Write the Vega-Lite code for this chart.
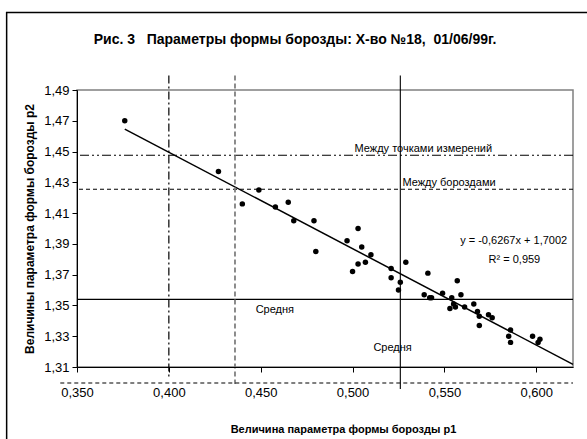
{
  "$schema": "https://vega.github.io/schema/vega-lite/v6.json",
  "width": 496,
  "height": 277,
  "autosize": {"type": "none"},
  "padding": {"left": 77, "top": 90, "right": 14, "bottom": 72},
  "background": "white",
  "config": {
    "font": "Liberation Sans",
    "view": {"stroke": "#808080", "strokeWidth": 1.5},
    "axis": {"grid": false, "domainColor": "black", "tickColor": "black", "labelColor": "black", "titleColor": "black", "labelFont": "Liberation Sans", "titleFont": "Liberation Sans", "labelOverlap": false, "labelFlush": false}
  },
  "title": {
    "text": "Рис. 3\u00a0\u00a0 Параметры формы борозды: Х-во №18,\u00a0 01/06/99г.",
    "anchor": "middle",
    "frame": "group",
    "dx": -30,
    "offset": -42,
    "baseline": "middle",
    "fontSize": 14,
    "fontWeight": "bold",
    "font": "Liberation Sans",
    "color": "black"
  },
  "datasets": {
    "pts": [
      {"p1": 0.376, "p2": 1.470}, {"p1": 0.427, "p2": 1.437}, {"p1": 0.440, "p2": 1.416}, {"p1": 0.449, "p2": 1.425},
      {"p1": 0.458, "p2": 1.414}, {"p1": 0.465, "p2": 1.417}, {"p1": 0.468, "p2": 1.405}, {"p1": 0.479, "p2": 1.405},
      {"p1": 0.480, "p2": 1.385}, {"p1": 0.497, "p2": 1.392}, {"p1": 0.503, "p2": 1.400}, {"p1": 0.505, "p2": 1.388},
      {"p1": 0.510, "p2": 1.383}, {"p1": 0.503, "p2": 1.377}, {"p1": 0.507, "p2": 1.378}, {"p1": 0.500, "p2": 1.372},
      {"p1": 0.521, "p2": 1.374}, {"p1": 0.521, "p2": 1.368}, {"p1": 0.529, "p2": 1.378}, {"p1": 0.526, "p2": 1.365},
      {"p1": 0.525, "p2": 1.360}, {"p1": 0.541, "p2": 1.371}, {"p1": 0.539, "p2": 1.357}, {"p1": 0.542, "p2": 1.355},
      {"p1": 0.543, "p2": 1.355}, {"p1": 0.549, "p2": 1.358}, {"p1": 0.557, "p2": 1.366}, {"p1": 0.554, "p2": 1.355},
      {"p1": 0.559, "p2": 1.357}, {"p1": 0.555, "p2": 1.351}, {"p1": 0.556, "p2": 1.349}, {"p1": 0.553, "p2": 1.348},
      {"p1": 0.561, "p2": 1.349}, {"p1": 0.566, "p2": 1.351}, {"p1": 0.568, "p2": 1.346}, {"p1": 0.569, "p2": 1.343},
      {"p1": 0.569, "p2": 1.337}, {"p1": 0.574, "p2": 1.344}, {"p1": 0.576, "p2": 1.342}, {"p1": 0.586, "p2": 1.334},
      {"p1": 0.585, "p2": 1.330}, {"p1": 0.586, "p2": 1.326}, {"p1": 0.598, "p2": 1.330}, {"p1": 0.602, "p2": 1.328},
      {"p1": 0.601, "p2": 1.326}
    ],
    "fit": [{"p1": 0.376, "p2": 1.4646}, {"p1": 0.62, "p2": 1.3117}],
    "frame": [{"x1": 0.3117, "x2": 0.66, "y1": 1.5404, "y2": 1.24}],
    "base": [{"x1": 0.3409, "x2": 0.62, "y": 1.2996}],
    "hMeasure": [{"v": 1.4476}],
    "hFurrow": [{"v": 1.4255}],
    "hMean": [{"v": 1.354}],
    "vMeasure": [{"v": 0.400, "top": 1.4995, "bot": 1.3035}],
    "vFurrow": [{"v": 0.436, "top": 1.4995, "bot": 1.299}],
    "vMean": [{"v": 0.526, "top": 1.4995, "bot": 1.2957}],
    "labels": [
      {"p1": 0.5385, "p2": 1.4515, "t": "Между  точками измерений"},
      {"p1": 0.5525, "p2": 1.4294, "t": "Между бороздами"},
      {"p1": 0.4577, "p2": 1.3470, "t": "Средня"},
      {"p1": 0.5218, "p2": 1.3221, "t": "Средня"},
      {"p1": 0.5877, "p2": 1.3919, "t": "y = -0,6267x + 1,7002"},
      {"p1": 0.5881, "p2": 1.3795, "t": "R² = 0,959"}
    ]
  },
  "encoding": {
    "x": {"type": "quantitative", "scale": {"domain": [0.35, 0.62], "nice": false, "zero": false},
      "axis": {"values": [0.35, 0.4, 0.45, 0.5, 0.55, 0.6], "labelExpr": "replace(format(datum.value, '.3f'), '.', ',')", "tickSize": 5, "labelPadding": 14, "labelFontSize": 13, "title": "Величина параметра формы борозды  p1", "titleFontSize": 11, "titleFontWeight": "bold", "titlePadding": 24, "titleX": 266, "zindex": 1}},
    "y": {"type": "quantitative", "scale": {"domain": [1.31, 1.49], "nice": false, "zero": false},
      "axis": {"values": [1.31, 1.33, 1.35, 1.37, 1.39, 1.41, 1.43, 1.45, 1.47, 1.49], "labelExpr": "replace(format(datum.value, '.2f'), '.', ',')", "tickSize": 5, "labelPadding": 3, "labelFontSize": 13, "title": "Величины параметра формы борозды p2", "titleFontSize": 12, "titleFontWeight": "bold", "titlePadding": 7, "zindex": 1}}
  },
  "layer": [
    {
      "data": {"name": "pts"},
      "mark": {"type": "circle", "color": "black", "opacity": 1, "size": 30},
      "encoding": {"x": {"field": "p1"}, "y": {"field": "p2"}}
    },
    {
      "data": {"name": "fit"},
      "mark": {"type": "line", "color": "black", "strokeWidth": 1.5},
      "encoding": {"x": {"field": "p1"}, "y": {"field": "p2"}}
    },
    {
      "data": {"name": "hMeasure"},
      "mark": {"type": "rule", "strokeWidth": 1.2, "color": "black", "strokeDash": [9, 3, 2, 3, 2, 3]},
      "encoding": {"y": {"field": "v"}, "x": null}
    },
    {
      "data": {"name": "hFurrow"},
      "mark": {"type": "rule", "strokeWidth": 1.2, "color": "black", "strokeDash": [4, 3]},
      "encoding": {"y": {"field": "v"}, "x": null}
    },
    {
      "data": {"name": "hMean"},
      "mark": {"type": "rule", "strokeWidth": 1.2, "color": "black"},
      "encoding": {"y": {"field": "v"}, "x": null}
    },
    {
      "data": {"name": "vMeasure"},
      "mark": {"type": "rule", "clip": false, "strokeWidth": 1.2, "color": "black", "strokeDash": [8, 3, 2, 3]},
      "encoding": {"x": {"field": "v"}, "y": {"field": "top"}, "y2": {"field": "bot"}}
    },
    {
      "data": {"name": "vFurrow"},
      "mark": {"type": "rule", "clip": false, "strokeWidth": 1.8, "color": "#808080", "strokeDash": [5, 3]},
      "encoding": {"x": {"field": "v"}, "y": {"field": "top"}, "y2": {"field": "bot"}}
    },
    {
      "data": {"name": "vMean"},
      "mark": {"type": "rule", "clip": false, "strokeWidth": 1.1, "color": "black"},
      "encoding": {"x": {"field": "v"}, "y": {"field": "top"}, "y2": {"field": "bot"}}
    },
    {
      "data": {"name": "base"},
      "mark": {"type": "rule", "clip": false, "strokeDash": [4, 3], "color": "black", "strokeWidth": 1.2},
      "encoding": {"x": {"field": "x1"}, "x2": {"field": "x2"}, "y": {"field": "y"}}
    },
    {
      "data": {"name": "frame"},
      "mark": {"type": "rect", "filled": false, "stroke": "black", "strokeWidth": 1.5, "clip": false},
      "encoding": {"x": {"field": "x1"}, "x2": {"field": "x2"}, "y": {"field": "y1"}, "y2": {"field": "y2"}}
    },
    {
      "data": {"name": "labels"},
      "mark": {"type": "text", "fontSize": 11, "color": "black", "align": "center", "baseline": "middle", "font": "Liberation Sans"},
      "encoding": {"x": {"field": "p1"}, "y": {"field": "p2"}, "text": {"field": "t"}}
    }
  ]
}
